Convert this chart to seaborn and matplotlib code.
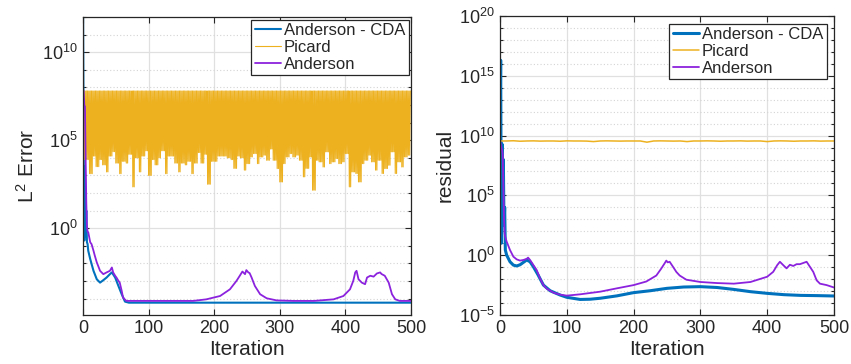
import numpy as np
import pandas as pd
import matplotlib.pyplot as plt
import seaborn as sns
from matplotlib.ticker import FixedLocator, NullFormatter

# ---- data (log10 of the plotted values) ----
labels = ["Anderson - CDA", "Picard", "Anderson"]
colors = ["#0072BD", "#EDB120", "#8B22DD"]

# left panel: L2 error
cda_err_it = [0, 1, 2, 3, 4, 5, 6, 7, 8, 11, 16, 21, 26, 31, 36, 41, 44, 49, 54, 59, 64, 70,
              100, 200, 300, 400, 500]
cda_err_log = [13, 4.8, -0.7, 3.5, -0.5, 1.0, -0.8, -0.9, -1.28, -1.75, -2.42, -2.9, -3.09, -2.95,
               -2.8, -2.61, -2.51, -2.8, -3.28, -3.75, -4.17, -4.23,
               -4.23, -4.23, -4.23, -4.23, -4.23]

and_err_it = [0, 1, 2, 3, 4, 5, 6, 7, 8, 11, 13, 16, 18, 21, 23, 26, 31, 36, 41, 44, 46, 49, 51, 54,
              56, 59, 61, 66, 100, 168, 188, 209, 224, 234, 239, 243, 247, 249, 252, 254, 257, 262,
              270, 280, 295, 321, 352, 382, 397, 407, 412, 415, 417, 420, 425, 430, 433, 438, 443,
              448, 453, 455, 460, 466, 471, 476, 483, 500]
and_err_log = [7.8, 7.8, 7.0, 6.9, 4.0, 1.5, 0.1, -0.2, -0.23, -0.8, -0.9, -1.28, -1.56, -1.94, -2.13,
               -2.42, -2.61, -2.51, -2.42, -2.23, -2.51, -2.7, -2.8, -2.99, -3.09, -3.56, -3.94, -4.13,
               -4.13, -4.13, -4.04, -3.85, -3.47, -2.99, -2.7, -2.46, -2.61, -2.38, -2.51, -2.55, -2.8,
               -3.28, -3.75, -3.98, -4.1, -4.13, -4.13, -4.04, -3.85, -3.47, -2.99, -2.51, -2.42, -2.9,
               -3.09, -3.18, -2.8, -2.7, -2.75, -2.57, -2.51, -2.6, -2.7, -3.09, -3.75, -4.04, -4.13,
               -4.13]

# Picard error alternates between a flat top and a jagged bottom (one bottom value per 5 iterations)
picard_err_top = 7.8
picard_err_low = [3.9, 3.9, 3.1, 4.1, 3.5, 3.9, 3.6, 3.2, 4.1, 4.35,
                  3.7, 3.1, 3.8, 3.7, 4.2, 2.35, 4.0, 3.2, 4.1, 4.4,
                  3.0, 3.9, 3.6, 4.0, 4.4, 3.1, 4.1, 4.1, 3.7, 3.2,
                  3.7, 3.6, 3.8, 3.1, 3.7, 4.3, 3.7, 4.2, 2.5, 3.8,
                  3.8, 4.1, 4.1, 4.1, 4.0, 3.9, 3.4, 4.1, 4.0, 3.3,
                  3.67, 4.05, 4.24, 3.67, 4.05, 4.15, 3.86, 4.5, 3.86, 3.39,
                  2.63, 3.67, 4.05, 4.24, 4.05, 4.15, 3.86, 2.92, 3.4, 4.05,
                  2.16, 3.86, 3.77, 3.48, 4.34, 3.67, 3.77, 3.96, 3.67, 3.77,
                  4.24, 2.35, 3.2, 3.11, 2.63, 3.67, 3.86, 4.15, 3.77, 3.3,
                  3.86, 3.11, 3.39, 3.58, 4.34, 3.11, 3.77, 3.48, 4.05, 4.15]

# right panel: residual
cda_res_it = [0, 1, 2, 3, 4, 5, 6, 7, 8, 10, 15, 20, 25, 30, 40, 45, 50, 57, 65, 75, 90, 100,
              120, 135, 150, 175, 200, 225, 250, 275, 300, 325, 350, 375, 400, 425, 450, 475, 500]
cda_res_log = [9.5, 16.3, 1.0, 9.3, 3.0, 8.0, 2.5, 4.0, 0.43, 0.0, -0.55, -0.83, -0.9, -0.8, -0.4,
               -0.55, -0.97, -1.65, -2.5, -2.97, -3.33, -3.52, -3.7, -3.68, -3.6, -3.4, -3.13, -2.97,
               -2.77, -2.66, -2.63, -2.7, -2.86, -3.05, -3.19, -3.3, -3.36, -3.38, -3.41]

and_res_it = [0, 1, 2, 3, 4, 5, 6, 7, 8, 10, 12, 15, 20, 25, 30, 35, 40, 42, 45, 50, 55, 60, 65, 70,
              80, 90, 100, 120, 150, 175, 200, 219, 234, 241, 246, 249, 251, 254, 259, 264, 269, 279,
              300, 325, 350, 375, 400, 409, 415, 419, 424, 429, 434, 439, 444, 449, 454, 459, 464,
              469, 474, 479, 489, 500]
and_res_log = [9.6, 9.3, 9.0, 8.8, 8.5, 6.0, 3.0, 1.8, 1.5, 1.13, 0.85, 0.43, -0.12, -0.35, -0.45,
               -0.4, -0.3, -0.2, -0.4, -0.83, -1.25, -1.95, -2.5, -2.8, -3.13, -3.3, -3.38, -3.27,
               -3.05, -2.77, -2.5, -2.2, -1.7, -1.15, -0.72, -0.45, -0.6, -0.55, -0.97, -1.4, -1.7,
               -2.05, -2.24, -2.33, -2.38, -2.24, -1.8, -1.39, -0.83, -0.55, -0.83, -1.1, -0.8, -0.9,
               -0.75, -0.75, -0.65, -0.55, -0.97, -1.4, -2.1, -2.38, -2.5, -2.7]

picard_res_it = list(range(0, 501, 10))
picard_res_log = [9.55, 9.55, 9.57, 9.53, 9.55, 9.56, 9.54, 9.55, 9.55, 9.53,
                  9.56, 9.55, 9.55, 9.54, 9.5, 9.55, 9.56, 9.55, 9.54, 9.55,
                  9.55, 9.55, 9.45, 9.55, 9.56, 9.55, 9.54, 9.55, 9.5, 9.55,
                  9.55, 9.56, 9.55, 9.53, 9.55, 9.55, 9.56, 9.54, 9.55, 9.55,
                  9.5, 9.55, 9.56, 9.55, 9.53, 9.55, 9.55, 9.56, 9.54, 9.55,
                  9.55]

# build picard error series: odd iterations at the top, even ones at the jagged bottom
picard_err_it = list(range(0, 500))
picard_err_log = [picard_err_top if i % 2 else picard_err_low[i // 5] for i in picard_err_it]

# ---- styling ----
sns.set_theme(style="white")
plt.rcParams['font.family'] = ['Liberation Sans', 'DejaVu Sans']
plt.rcParams['mathtext.default'] = 'regular'
ink = "#262626"

fig = plt.figure(figsize=(8.51, 3.64), dpi=100)
ax1 = fig.add_axes([83 / 851, 49 / 364, 328 / 851, 298 / 364])
ax2 = fig.add_axes([500 / 851, 49 / 364, 334 / 851, 299 / 364])


def style_axes(ax, lo, hi, majors, ylabel):
    ax.set_yscale('log')
    ax.set_xlim(0, 500)
    ax.set_ylim(10.0 ** lo, 10.0 ** hi)
    ax.set_xticks(range(0, 501, 100))
    ax.yaxis.set_major_locator(FixedLocator([10.0 ** m for m in majors]))
    minors = [10.0 ** d for d in range(int(np.floor(lo)), int(np.ceil(hi)) + 1) if d not in majors]
    ax.yaxis.set_minor_locator(FixedLocator(minors))
    ax.yaxis.set_minor_formatter(NullFormatter())
    ax.grid(which='major', color='#e0e0e0', lw=0.9, ls='-')
    ax.grid(which='minor', axis='y', color='#d4d4d4', lw=0.8, ls=(0, (1, 2)))
    ax.set_axisbelow(True)
    ax.tick_params(which='both', direction='in', top=True, right=True, left=True, bottom=True,
                   color=ink, labelcolor=ink, labelsize=13, width=0.8)
    ax.tick_params(which='major', length=4)
    ax.tick_params(which='minor', length=2.5)
    for s in ax.spines.values():
        s.set_color(ink)
        s.set_linewidth(0.9)
    ax.set_xlabel('Iteration', fontsize=15, color=ink, labelpad=2)
    ax.set_ylabel(ylabel, fontsize=15, color=ink, labelpad=3)
    ax.legend(loc='upper right', fontsize=12, frameon=True, fancybox=False, edgecolor=ink,
              framealpha=1, handlelength=1.6, handletextpad=0.15, labelspacing=0.12,
              borderpad=0.2, borderaxespad=0.15 if ax is ax1 else 0.45)
    ax.get_legend().get_frame().set_linewidth(0.9)


# left: L2 error
sns.lineplot(x=cda_err_it, y=10.0 ** np.array(cda_err_log), ax=ax1, color=colors[0], lw=1.5,
             label=labels[0])
sns.lineplot(x=picard_err_it, y=10.0 ** np.array(picard_err_log), ax=ax1, color=colors[1], lw=0.8,
             label=labels[1])
sns.lineplot(x=and_err_it, y=10.0 ** np.array(and_err_log), ax=ax1, color=colors[2], lw=1.3,
             label=labels[2])
style_axes(ax1, -4.93, 12.0, [0, 5, 10], 'L$^2$ Error')

# right: residual
sns.lineplot(x=cda_res_it, y=10.0 ** np.array(cda_res_log), ax=ax2, color=colors[0], lw=2.2,
             label=labels[0])
sns.lineplot(x=picard_res_it, y=10.0 ** np.array(picard_res_log), ax=ax2, color=colors[1], lw=1.1,
             label=labels[1])
sns.lineplot(x=and_res_it, y=10.0 ** np.array(and_res_log), ax=ax2, color=colors[2], lw=1.3,
             label=labels[2])
style_axes(ax2, -5, 20, [-5, 0, 5, 10, 15, 20], 'residual')

fig.savefig('out.png', dpi=100)
